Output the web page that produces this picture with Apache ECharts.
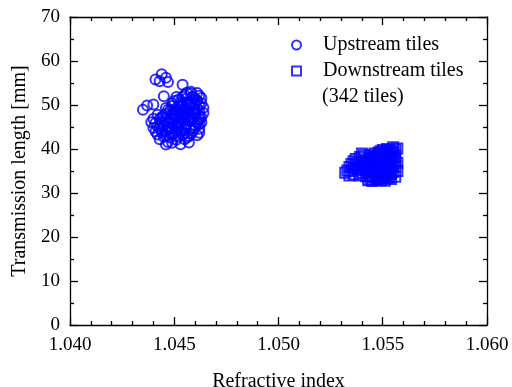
<!DOCTYPE html>
<html lang="en">
<head>
    <meta charset="UTF-8">
    <title>Transmission length vs refractive index</title>
    <script src="https://cdn.jsdelivr.net/npm/echarts@6/dist/echarts.min.js"></script>
    <style>
        html, body { margin: 0; padding: 0; background: #fff; }
        #chart { width: 512px; height: 387px; }
    </style>
</head>
<body>
<div id="chart"></div>
<script>
    // refractive index / transmission length [mm]
    const upstreamRI = [
        1.0444, 1.0443, 1.0447, 1.0441, 1.0454, 1.0445, 1.0450, 1.0435, 1.0437, 1.0440, 1.0446,
        1.0455, 1.0459, 1.0462, 1.0452, 1.0457, 1.0461, 1.0463, 1.0449, 1.0454, 1.0458,
        1.0461, 1.0447, 1.0451, 1.0455, 1.0459, 1.0462, 1.0445, 1.0449, 1.0453, 1.0456,
        1.0460, 1.0463, 1.0443, 1.0447, 1.0451, 1.0454, 1.0458, 1.0461, 1.0441, 1.0445,
        1.0449, 1.0452, 1.0456, 1.0460, 1.0440, 1.0444, 1.0448, 1.0451, 1.0455, 1.0459,
        1.0462, 1.0442, 1.0446, 1.0450, 1.0454, 1.0457, 1.0443, 1.0447, 1.0451, 1.0453,
        1.0446, 1.0457, 1.0442, 1.0439, 1.0444, 1.0448, 1.0450, 1.0453, 1.0457, 1.0460,
        1.0464, 1.0463, 1.0462, 1.0458, 1.0456, 1.0452, 1.0455, 1.0449, 1.0446,
        1.0450, 1.0453, 1.0456, 1.0460, 1.0463, 1.0458, 1.0462, 1.0457, 1.0454, 1.0450,
        1.0446, 1.0448, 1.0452, 1.0456, 1.0459, 1.0462, 1.0464, 1.0444, 1.0447, 1.0450,
        1.0453, 1.0457, 1.0460, 1.0462, 1.0443, 1.0446, 1.0452, 1.0455, 1.0458, 1.0461,
        1.0444, 1.0448, 1.0452, 1.0455, 1.0449, 1.0445, 1.0441, 1.0440, 1.0442, 1.0446,
        1.0449, 1.0451, 1.0454, 1.0458, 1.0461,
        1.0448, 1.0451, 1.0454, 1.0457, 1.0460, 1.0455, 1.0458, 1.0452, 1.0456, 1.0459,
        1.0461, 1.0450, 1.0447, 1.0453, 1.0456, 1.0449, 1.0459, 1.0455, 1.0452, 1.0462
    ];
    const upstreamTL = [
        57.0, 55.4, 55.2, 55.8, 54.6, 52.0, 50.9, 48.9, 49.9, 50.1, 56.2,
        52.3, 51.8, 52.1, 51.2, 50.7, 51.0, 50.4, 49.8, 50.1, 49.6,
        49.1, 48.9, 48.6, 49.2, 48.3, 48.8, 47.6, 47.9, 48.1, 47.4,
        47.8, 47.2, 46.8, 46.3, 47.0, 46.5, 46.9, 46.2, 45.9, 45.4,
        45.8, 45.1, 45.6, 45.3, 44.8, 44.3, 44.6, 44.0, 44.4, 44.1,
        44.6, 43.3, 43.0, 43.5, 43.2, 42.9, 42.2, 41.6, 42.1, 41.1,
        41.0, 41.5, 45.1, 46.1, 47.3, 48.7, 46.6, 49.5, 48.0, 50.2,
        49.4, 46.0, 43.7, 52.6, 51.5, 46.0, 47.2, 44.9, 46.8,
        49.0, 50.6, 52.8, 51.4, 51.6, 50.3, 49.9, 49.9, 48.7, 48.2,
        47.9, 47.1, 47.6, 48.6, 47.0, 47.5, 48.2, 46.0, 45.1, 45.3,
        45.9, 46.4, 44.8, 45.7, 44.7, 44.1, 44.5, 43.7, 43.4, 43.1,
        43.8, 42.6, 42.8, 42.2, 41.4, 42.8, 44.0, 46.9, 47.8, 49.3,
        50.4, 51.8, 51.9, 53.0, 52.7,
        46.0, 45.6, 47.8, 47.1, 48.6, 45.0, 44.6, 49.8, 50.5, 49.2,
        45.9, 47.6, 44.4, 43.9, 42.6, 43.2, 51.9, 46.7, 48.8, 46.8
    ];
    const downstreamRI = [
        1.0533, 1.0532, 1.0534, 1.0536, 1.0537, 1.0539, 1.0540, 1.0541, 1.0542, 1.0543,
        1.0543, 1.0544, 1.0545, 1.0546, 1.0547, 1.0547, 1.0548, 1.0549, 1.0550, 1.0550,
        1.0551, 1.0551, 1.0552, 1.0553, 1.0553, 1.0554, 1.0555, 1.0555, 1.0556, 1.0557,
        1.0557, 1.0557, 1.0556, 1.0554, 1.0552, 1.0549, 1.0546, 1.0541, 1.0538, 1.0535,
        1.0544, 1.0548, 1.0552, 1.0545, 1.0549, 1.0553, 1.0539, 1.0546, 1.0550, 1.0542,
        1.0534, 1.0536, 1.0538, 1.0540, 1.0541, 1.0543, 1.0544, 1.0545, 1.0546, 1.0547,
        1.0548, 1.0549, 1.0550, 1.0551, 1.0552, 1.0553, 1.0554, 1.0554, 1.0555, 1.0556,
        1.0555, 1.0552, 1.0548, 1.0544, 1.0542, 1.0537, 1.0540, 1.0535, 1.0547, 1.0551,
        1.0541, 1.0542, 1.0543, 1.0544, 1.0544, 1.0545, 1.0546, 1.0546, 1.0547, 1.0547,
        1.0548, 1.0548, 1.0549, 1.0549, 1.0550, 1.0550, 1.0551, 1.0551, 1.0552, 1.0552,
        1.0553, 1.0553, 1.0554, 1.0554, 1.0555, 1.0556, 1.0556, 1.0545, 1.0543, 1.0540,
        1.0538, 1.0536, 1.0545, 1.0550, 1.0553
    ];
    const downstreamTL = [
        35.1, 34.6, 35.9, 34.2, 36.4, 38.2, 35.3, 37.1, 33.8, 32.9,
        36.0, 38.6, 34.7, 37.3, 33.3, 35.8, 39.2, 36.6, 34.1, 38.0,
        32.8, 35.4, 37.6, 39.7, 33.6, 36.2, 40.4, 34.8, 38.5, 40.1,
        36.9, 35.0, 33.7, 38.9, 40.0, 39.5, 39.0, 38.6, 37.0, 36.6,
        35.2, 34.0, 35.9, 32.7, 32.9, 37.0, 34.0, 36.1, 36.9, 36.8,
        34.0, 35.6, 36.0, 34.5, 36.3, 37.8, 34.0, 36.7, 33.8, 38.2,
        35.1, 37.8, 33.4, 39.1, 34.5, 35.3, 33.2, 37.5, 39.3, 36.0,
        37.8, 38.7, 33.0, 33.1, 35.1, 37.7, 39.0, 35.0, 36.9, 36.4,
        35.8, 37.4, 34.6, 36.3, 37.9, 35.5, 34.9, 38.4, 37.6, 34.4,
        36.4, 38.8, 35.2, 34.5, 37.4, 35.6, 38.3, 34.0, 36.7, 33.5,
        38.1, 36.0, 34.3, 39.5, 36.5, 37.2, 39.9, 38.0, 35.5, 36.8,
        35.4, 37.2, 33.6, 39.8, 34.7
    ];
    const xTicks = {min: 1.040, max: 1.060, step: 0.005};
    const yTicks = {min: 0, max: 70, step: 10};

    function pairs(xs, ys) {
        return xs.map((x, i) => [x, ys[i]]);
    }

    const FONT = 'Liberation Serif';
    const BLUE = '#0000ff';

    let myChart = echarts.init(document.getElementById('chart'));

    let axisCommon = {
        type: 'value',
        axisLine: {show: true, onZero: false, lineStyle: {color: '#000', width: 1.3}},
        axisTick: {show: true, inside: true, length: 8, lineStyle: {color: '#000', width: 1.3}},
        minorTick: {show: true, length: 4, lineStyle: {color: '#000', width: 1.3}},
        splitLine: {show: false}
    };

    let option = {
        animation: false,
        textStyle: {fontFamily: FONT},
        grid: {left: 70, right: 25, top: 17, bottom: 62, outerBoundsMode: 'none', containLabel: false},
        legend: {
            orient: 'vertical',
            left: 286,
            top: 30,
            itemWidth: 9,
            itemHeight: 9,
            itemGap: 6,
            textStyle: {fontFamily: FONT, fontSize: 20, color: '#000', padding: [0, 0, 0, 17]},
            data: [
                {name: 'Upstream tiles', icon: 'circle'},
                {name: 'Downstream tiles', icon: 'rect'}
            ]
        },
        graphic: [{
            type: 'text',
            left: 322,
            top: 87,
            style: {text: '(342 tiles)', font: '20px "Liberation Serif"', fill: '#000'}
        }],
        xAxis: [
            Object.assign({}, axisCommon, {
                position: 'bottom',
                min: xTicks.min, max: xTicks.max, interval: xTicks.step,
                minorTick: Object.assign({}, axisCommon.minorTick, {splitNumber: 5}),
                name: 'Refractive index',
                nameLocation: 'middle',
                nameGap: 47,
                nameTextStyle: {fontFamily: FONT, fontSize: 20, color: '#000'},
                axisLabel: {
                    fontFamily: FONT, fontSize: 19, color: '#000', margin: 11,
                    formatter: v => v.toFixed(3)
                }
            }),
            Object.assign({}, axisCommon, {
                position: 'top',
                min: xTicks.min, max: xTicks.max, interval: xTicks.step,
                minorTick: Object.assign({}, axisCommon.minorTick, {splitNumber: 5}),
                axisLabel: {show: false}
            })
        ],
        yAxis: [
            Object.assign({}, axisCommon, {
                position: 'left',
                min: yTicks.min, max: yTicks.max, interval: yTicks.step,
                minorTick: Object.assign({}, axisCommon.minorTick, {splitNumber: 2}),
                name: 'Transmission length [mm]',
                nameLocation: 'middle',
                nameGap: 40,
                nameTextStyle: {fontFamily: FONT, fontSize: 20, color: '#000'},
                axisLabel: {fontFamily: FONT, fontSize: 19, color: '#000', margin: 10}
            }),
            Object.assign({}, axisCommon, {
                position: 'right',
                min: yTicks.min, max: yTicks.max, interval: yTicks.step,
                minorTick: Object.assign({}, axisCommon.minorTick, {splitNumber: 2}),
                axisLabel: {show: false}
            })
        ],
        series: [
            {
                name: 'Upstream tiles',
                type: 'scatter',
                symbol: 'circle',
                symbolSize: 10,
                itemStyle: {color: 'rgba(0,0,0,0)', borderColor: BLUE, borderWidth: 2},
                data: pairs(upstreamRI, upstreamTL)
            },
            {
                name: 'Downstream tiles',
                type: 'scatter',
                symbol: 'rect',
                symbolSize: 10,
                itemStyle: {color: 'rgba(0,0,0,0)', borderColor: BLUE, borderWidth: 2},
                data: pairs(downstreamRI, downstreamTL)
            }
        ]
    };

    myChart.setOption(option);
</script>
</body>
</html>
